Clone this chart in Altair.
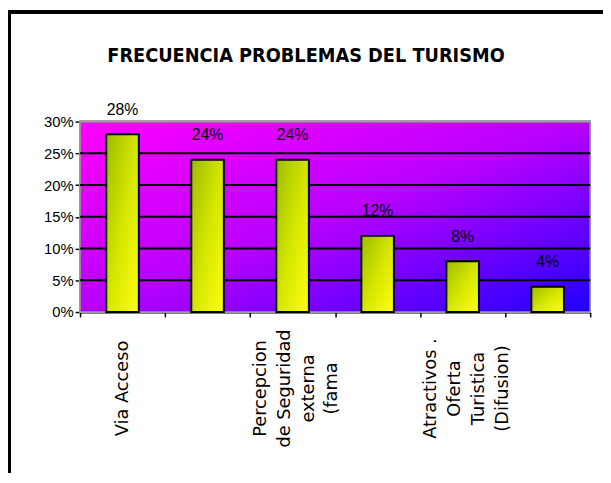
import json
import altair as alt
import pandas as pd

# ---- data ----
idx = [1, 2, 3, 4, 5, 6]
values = [0.28, 0.24, 0.24, 0.12, 0.08, 0.04]
value_labels = ["28%", "24%", "24%", "12%", "8%", "4%"]
x_labels = [
    ["Via Acceso"],
    [""],
    ["Percepcion", "de Seguridad", "externa", "(fama"],
    [""],
    ["Atractivos .", "Oferta", "Turistica", "(Difusion)"],
    [""],
]
y_ticks = [0, 0.05, 0.10, 0.15, 0.20, 0.25, 0.30]
title_text = "FRECUENCIA PROBLEMAS DEL TURISMO"

df = pd.DataFrame({"idx": idx, "value": values, "label": value_labels})
grid_df = pd.DataFrame({"v": y_ticks[1:]})
title_df = pd.DataFrame({"t": [title_text]})

W, H = 517, 193
LINE_H = 24

label_expr = json.dumps(x_labels) + "[datum.value - 1]"

x_axis = alt.Axis(
    title=None,
    tickBand="extent",
    labelExpr=label_expr,
    labelAngle=-90,
    labelAlign="center",
    labelBaseline="middle",
    labelPadding=72,
    labelLineHeight=LINE_H,
    labelOffset={"condition": {"test": "datum.value == 1", "value": 0}, "value": -32},
    labelFont="DejaVu Sans",
    labelFontSize=18,
    labelColor="black",
    labelOverlap=False,
    labelBound=False,
    labelFlush=False,
    tickSize=5,
    tickColor="black",
    tickWidth=1.5,
    domainColor="black",
    domainWidth=2,
    grid=False,
)

y_axis = alt.Axis(
    title=None,
    values=y_ticks,
    format=".0%",
    labelFont="Liberation Sans",
    labelFontSize=15,
    labelColor="black",
    labelPadding=2,
    labelOverlap=False,
    tickSize=5,
    tickColor="black",
    tickWidth=1.5,
    domainColor="black",
    domainWidth=2,
    grid=False,
)

y_scale = alt.Scale(domain=[0, 0.3], nice=False, zero=True)
x_enc = alt.X("idx:O", scale=alt.Scale(paddingInner=0, paddingOuter=0), axis=x_axis)
y_enc = alt.Y("value:Q", scale=y_scale, axis=y_axis)

bg = alt.Chart(df).mark_rect(
    color=alt.LinearGradient(
        gradient="linear",
        stops=[
            alt.GradientStop(color="#ff00ff", offset=0),
            alt.GradientStop(color="#b800ff", offset=0.5),
            alt.GradientStop(color="#2000ff", offset=1),
        ],
        x1=0, y1=0, x2=1, y2=1,
    ),
    stroke="#9a9a9a",
    strokeWidth=1.5,
).encode(x=alt.value(0), x2=alt.value(W), y=alt.value(0), y2=alt.value(H))

grid = alt.Chart(grid_df).mark_rule(strokeWidth=2).encode(
    y=alt.Y("v:Q", scale=y_scale, axis=y_axis),
    color=alt.condition("datum.v >= 0.3", alt.value("#9a9a9a"), alt.value("black")),
)

bars = alt.Chart(df).mark_bar(
    size=33,
    stroke="black",
    strokeWidth=2,
    color=alt.LinearGradient(
        gradient="linear",
        stops=[
            alt.GradientStop(color="#9cbc00", offset=0),
            alt.GradientStop(color="#d4e600", offset=0.5),
            alt.GradientStop(color="#ffff10", offset=1),
        ],
        x1=0, y1=0, x2=1, y2=1,
    ),
).encode(x=x_enc, y=y_enc)

texts = alt.Chart(df).mark_text(
    dy=-25, font="Liberation Sans", fontSize=16, color="black", baseline="middle"
).encode(x=x_enc, y=y_enc, text="label:N")

title = alt.Chart(title_df).mark_text(
    font="'DejaVu Sans Condensed', 'Liberation Sans Narrow', 'DejaVu Sans'",
    fontSize=20,
    fontWeight="bold",
    color="black",
    align="center",
    baseline="alphabetic",
).encode(x=alt.value(229), y=alt.value(-60), text="t:N")

frame = alt.Chart(df).mark_rect(
    fill=None, stroke="black", strokeWidth=3, clip=False
).encode(x=alt.value(-72), x2=alt.value(800), y=alt.value(-111), y2=alt.value(800))

chart = alt.layer(bg, grid, bars, texts, title, frame).properties(
    width=W,
    height=H,
    autosize=alt.AutoSizeParams(type="none"),
    padding={"left": 73, "top": 112, "right": 13, "bottom": 160},
).configure_view(stroke=None).configure(background="white")

chart.save("out.html", embed_options={"renderer": "svg", "actions": False})
